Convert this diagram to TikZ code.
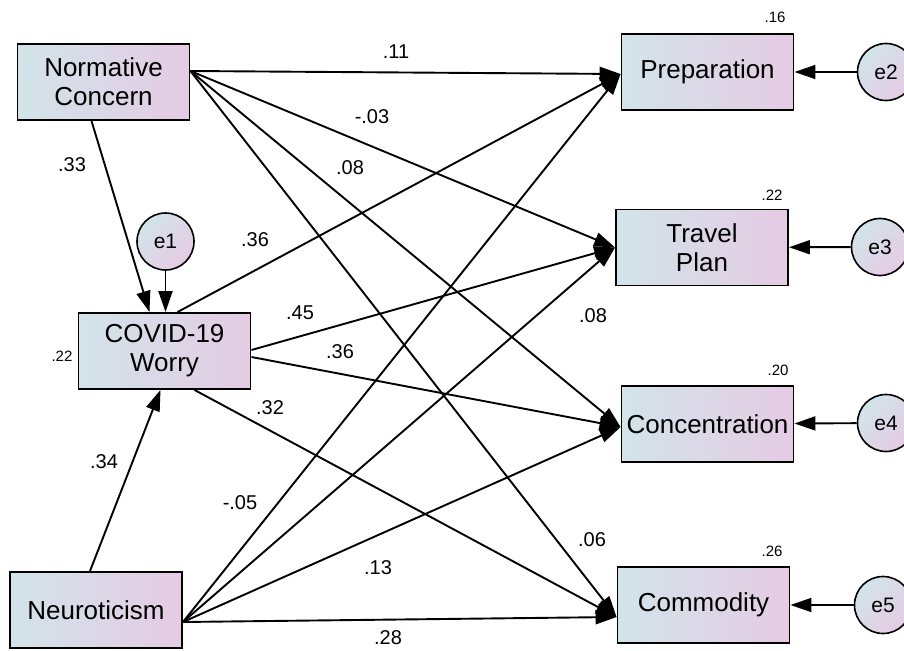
\documentclass[tikz,border=0pt]{standalone}
\usepackage{fontspec}
\setmainfont{Liberation Sans}
\usetikzlibrary{arrows.meta,calc}
\definecolor{boxL}{RGB}{210,228,233}
\definecolor{boxR}{RGB}{229,203,228}
\begin{document}
\begin{tikzpicture}[x=1pt,y=-1pt,
  var/.style={draw=black, line width=1.9pt, left color=boxL, right color=boxR,
    minimum width=172pt, minimum height=76pt, inner sep=0pt, align=center,
    font=\fontsize{26}{29}\selectfont},
  err/.style={circle, draw=black, line width=1.6pt, left color=boxL, right color=boxR,
    shading angle=45, minimum size=57pt, inner sep=0pt,
    font=\fontsize{21}{24}\selectfont},
  arr/.style={line width=1.9pt, -{Triangle[length=21pt,width=14pt]}},
  coef/.style={inner sep=0pt, font=\fontsize{20}{22}\selectfont},
  rsq/.style={inner sep=0pt, font=\fontsize{15}{17}\selectfont}]
\useasboundingbox (0,0) rectangle (904,650);
\fill[white] (0,0) rectangle (904,650);

% variables
\node[var] (nc)   at (103.5,82)  {Normative\\Concern};
\node[var] (cw)   at (164.5,351) {COVID-19\\Worry};
\node[var] (neu)  at (96,610)    {Neuroticism};
\node[var] (prep) at (707.5,72)  {Preparation};
\node[var] (tp)   at (702,247.5) {Travel\\Plan};
\node[var] (conc) at (707.5,424) {Concentration};
\node[var] (comm) at (703.5,605) {Commodity};

% errors
\node[err] (e1) at (165.5,241.5) {e1};
\node[err] (e2) at (886,72)  {e2};
\node[err] (e3) at (880,247) {e3};
\node[err] (e4) at (886,423) {e4};
\node[err] (e5) at (883,605) {e5};

% connection points
\coordinate (ncOut)  at ([yshift=11pt]nc.east);
\coordinate (ncBot)  at ([xshift=-12pt]nc.south);
\coordinate (neuOut) at ([yshift=-12pt]neu.east);
\coordinate (neuTop) at ([xshift=-6pt]neu.north);
\coordinate (cwTopL) at ([xshift=-15pt]cw.north);
\coordinate (cwTopR) at ([xshift=13pt]cw.north);
\coordinate (cwBot)  at ([xshift=-4pt]cw.south);
\coordinate (cwR1)   at ([yshift=1pt]cw.east);
\coordinate (cwR2)   at ([yshift=-6pt]cw.east);
\coordinate (cwBR)   at ([xshift=30pt]cw.south);
\coordinate (prepIn) at ([yshift=-2pt]prep.west);
\coordinate (tpIn)   at ([yshift=0pt]tp.west);
\coordinate (concIn) at ([yshift=-3pt]conc.west);
\coordinate (commIn) at ([yshift=-12pt]comm.west);

% paths
\draw[arr] (ncOut) -- (prepIn);
\draw[arr] (ncOut) -- (tpIn);
\draw[arr] (ncOut) -- (concIn);
\draw[arr] (ncOut) -- (commIn);
\draw[arr] (ncBot) -- (cwTopL);
\draw[arr] (e1) -- (e1 |- cw.north);
\draw[arr] (neuTop) -- (cwBot);
\draw[arr] (cwTopR) -- (prepIn);
\draw[arr] (cwR1) -- (tpIn);
\draw[arr] (cwR2) -- (concIn);
\draw[arr] (cwBR) -- (commIn);
\draw[arr] (neuOut) -- (prepIn);
\draw[arr] (neuOut) -- (tpIn);
\draw[arr] (neuOut) -- (concIn);
\draw[arr] (neuOut) -- (commIn);
\draw[arr] (e2) -- (prep);
\draw[arr] (e3) -- (tp);
\draw[arr] (e4) -- (conc);
\draw[arr] (e5) -- (comm);

% coefficients
\node[coef] (c1)  at (396,52)  {.11};
\node[coef] (c2)  at (372,117) {-.03};
\node[coef] (c3)  at (350,168) {.08};
\node[coef] (c4)  at (72,165)  {.33};
\node[coef] (c5)  at (255,240) {.36};
\node[coef] (c6)  at (300,313) {.45};
\node[coef] (c7)  at (340,352) {.36};
\node[coef] (c8)  at (270,408) {.32};
\node[coef] (c9)  at (104,462) {.34};
\node[coef] (c10) at (240,503) {-.05};
\node[coef] (c11) at (593,316) {.08};
\node[coef] (c12) at (378,568) {.13};
\node[coef] (c13) at (592,540) {.06};
\node[coef] (c14) at (388,638) {.28};

% squared multiple correlations
\node[rsq] (r0) at (62,356)  {.22};
\node[rsq] (r1) at (775,17)  {.16};
\node[rsq] (r2) at (772,195) {.22};
\node[rsq] (r3) at (778,370) {.20};
\node[rsq] (r4) at (772,551) {.26};
\end{tikzpicture}
\end{document}
